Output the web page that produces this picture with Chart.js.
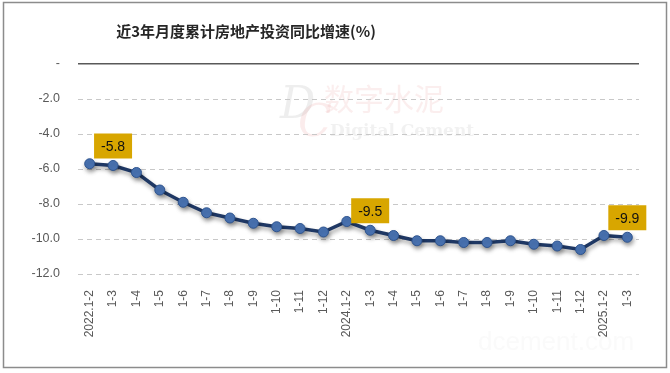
<!DOCTYPE html>
<html>
<head>
<meta charset="utf-8">
<script src="https://cdn.jsdelivr.net/npm/chart.js@4.4.1/dist/chart.umd.min.js"></script>
<style>
html,body{margin:0;padding:0;background:#fff;}
#wrap{width:670px;height:373px;position:relative;}
</style>
</head>
<body>
<div id="wrap"><canvas id="c" width="670" height="373"></canvas></div>
<script>
const titleText = '近3年月度累计房地产投资同比增速(%)';
const categories = ['2022.1-2','1-3','1-4','1-5','1-6','1-7','1-8','1-9','1-10','1-11','1-12',
  '2024.1-2','1-3','1-4','1-5','1-6','1-7','1-8','1-9','1-10','1-11','1-12',
  '2025.1-2','1-3'];
const growth = [-5.7,-5.8,-6.2,-7.2,-7.9,-8.5,-8.8,-9.1,-9.3,-9.4,-9.6,
  -9.0,-9.5,-9.8,-10.1,-10.1,-10.2,-10.2,-10.1,-10.3,-10.4,-10.6,
  -9.8,-9.9];
const labelledIdx = [1, 12, 23];
const yMin = -12, yMax = 0, yStep = 2;

const FONT = '"Liberation Sans", "Noto Sans CJK SC", sans-serif';

const framePlugin = {
  id: 'frame',
  beforeDraw(chart) {
    const ctx = chart.ctx;
    ctx.save();
    ctx.fillStyle = '#fff';
    ctx.fillRect(0, 0, chart.width, chart.height);
    // faint watermark
    ctx.font = 'italic 44px "DejaVu Serif", serif';
    ctx.fillStyle = 'rgba(200,200,200,0.3)';
    ctx.fillText('D', 280, 118);
    ctx.fillStyle = 'rgba(235,160,160,0.2)';
    ctx.fillText('C', 298, 136);
    ctx.font = '30px "Noto Sans CJK SC", serif';
    ctx.fillStyle = 'rgba(235,160,160,0.18)';
    ctx.fillText('数字水泥', 324, 110);
    ctx.font = 'bold 17px "DejaVu Serif", serif';
    ctx.fillStyle = 'rgba(190,190,190,0.22)';
    ctx.fillText('Digital Cement', 330, 136);
    ctx.font = '26px "Liberation Sans", sans-serif';
    ctx.fillStyle = 'rgba(220,220,220,0.15)';
    ctx.fillText('dcement.com', 478, 350);
    ctx.restore();
  },
  afterDraw(chart) {
    const ctx = chart.ctx;
    ctx.save();
    ctx.strokeStyle = '#8c8c8c';
    ctx.lineWidth = 1.5;
    ctx.strokeRect(3.5, 2.5, 663, 365);
    ctx.font = 'bold 15px "Noto Sans CJK SC", sans-serif';
    ctx.fillStyle = '#262626';
    ctx.textAlign = 'center';
    ctx.textBaseline = 'middle';
    ctx.fillText(titleText, 246, 31);
    ctx.restore();
  }
};

const shadowPlugin = {
  id: 'shadow',
  beforeDatasetsDraw(chart) {
    const ctx = chart.ctx;
    ctx.save();
    ctx.shadowColor = 'rgba(0,0,0,0.35)';
    ctx.shadowBlur = 4;
    ctx.shadowOffsetX = 1;
    ctx.shadowOffsetY = 3;
  },
  afterDatasetsDraw(chart) {
    chart.ctx.restore();
  }
};

const boxPlugin = {
  id: 'boxes',
  afterDatasetsDraw(chart) {
    const ctx = chart.ctx;
    const xs = chart.scales.x, ys = chart.scales.y;
    ctx.save();
    labelledIdx.forEach(i => {
      const v = growth[i];
      const px = xs.getPixelForValue(i);
      const py = ys.getPixelForValue(v);
      const w = 38, h = 25;
      const bx = px - w / 2, by = py - 7 - h;
      ctx.fillStyle = '#D8A600';
      ctx.fillRect(bx, by, w, h);
      ctx.fillStyle = '#111';
      ctx.font = '14px ' + FONT;
      ctx.textAlign = 'center';
      ctx.textBaseline = 'middle';
      ctx.fillText(v.toFixed(1), px, by + h / 2 + 1);
    });
    ctx.restore();
  }
};

new Chart(document.getElementById('c'), {
  type: 'line',
  data: {
    labels: categories,
    datasets: [{
      data: growth,
      borderColor: '#1F3864',
      borderWidth: 3.5,
      tension: 0,
      pointRadius: 5,
      pointHoverRadius: 5,
      pointBackgroundColor: '#4A74B4',
      pointBorderColor: '#2E548F',
      pointBorderWidth: 1
    }]
  },
  options: {
    responsive: false,
    animation: false,
    devicePixelRatio: 1,
    layout: { padding: { top: 64, right: 31, bottom: 0, left: 0 } },
    plugins: { legend: { display: false }, title: { display: false }, tooltip: { enabled: false } },
    scales: {
      x: {
        type: 'category',
        offset: true,
        grid: { display: false },
        border: { display: false },
        ticks: {
          minRotation: 90, maxRotation: 90, autoSkip: false,
          padding: 8,
          color: '#595959',
          font: { family: FONT, size: 12 }
        },
        afterFit(s) { s.height = 99; }
      },
      y: {
        min: yMin, max: yMax,
        grid: {
          drawTicks: false,
          color: c => (c.tick && c.tick.value === 0) ? '#595959' : '#c8c8c8',
          lineWidth: c => (c.tick && c.tick.value === 0) ? 1.5 : 1
        },
        border: { display: false, dash: c => (c.tick && c.tick.value === 0) ? [] : [5, 4] },
        ticks: {
          stepSize: yStep,
          padding: 18,
          color: '#595959',
          font: { family: FONT, size: 12.5 },
          callback: v => v === 0 ? '-' : v.toFixed(1)
        },
        afterFit(s) { s.width = 78; }
      }
    }
  },
  plugins: [framePlugin, shadowPlugin, boxPlugin]
});
</script>
</body>
</html>
